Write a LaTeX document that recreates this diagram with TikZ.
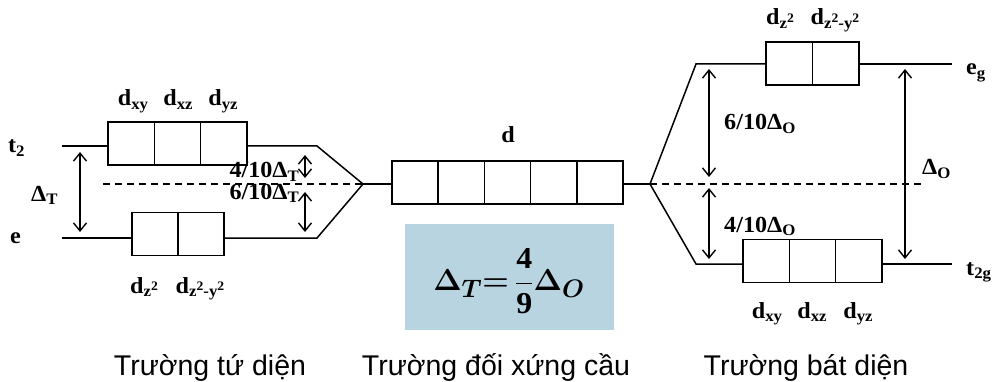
\documentclass[tikz,border=0pt]{standalone}
\usepackage{fontspec}
\usepackage{bm}
\usetikzlibrary{arrows.meta}
\newfontfamily\lblfont[FakeStretch=1.05]{Liberation Serif}
\newfontfamily\capfont{Liberation Sans}
\definecolor{panelblue}{RGB}{183,212,224}
% subscript and raised index for orbital labels
\newcommand\sbs[1]{\raisebox{-0.15em}{\fontsize{16}{16}\selectfont #1}}
\newcommand\upr[1]{\raisebox{0.35em}{\fontsize{13}{13}\selectfont #1}}
\begin{document}
\begin{tikzpicture}[x=1pt,y=-1pt,
  cell/.style={draw, line width=1.6pt, minimum width=46.3pt, minimum height=43pt, inner sep=0pt, outer sep=0pt},
  lvl/.style={line width=1.5pt},
  midline/.style={line width=1.3pt, dash pattern=on 7pt off 5pt},
  dbl/.style={line width=1.4pt, {Straight Barb[length=8pt,width=13pt]}-{Straight Barb[length=8pt,width=13pt]}},
  lbl/.style={font=\lblfont\bfseries\fontsize{23}{26}\selectfont, inner sep=0pt},
  fieldname/.style={font=\capfont\fontsize{28.5}{32}\selectfont, inner sep=0pt}]
\useasboundingbox (0,0) rectangle (995,382);

% ---------- orbital boxes ----------
% tetrahedral field
\node[cell] (ta1) at (131.2,143.5) {};
\node[cell] (ta2) at (177.5,143.5) {};
\node[cell] (ta3) at (223.8,143.5) {};
\node[cell] (ea1) at (155,234) {};
\node[cell] (ea2) at (201,234) {};
% spherical field
\node[cell] (s1) at (415.1,182.5) {};
\node[cell] (s2) at (461.3,182.5) {};
\node[cell] (s3) at (507.5,182.5) {};
\node[cell] (s4) at (553.7,182.5) {};
\node[cell] (s5) at (599.9,182.5) {};
% octahedral field
\node[cell] (eg1) at (789.3,63.5) {};
\node[cell] (eg2) at (835.7,63.5) {};
\node[cell] (tg1) at (766.2,261) {};
\node[cell] (tg2) at (812.5,261) {};
\node[cell] (tg3) at (858.8,261) {};

% ---------- level lines ----------
\coordinate (t2L) at (62,146);  \coordinate (t2R) at (317,146);
\coordinate (eL)  at (62,238);  \coordinate (eR)  at (317,238);
\coordinate (apexT) at (363,184);
\coordinate (apexO) at (650,184);
\coordinate (egL) at (696,64);  \coordinate (egR) at (952,64);
\coordinate (tgL) at (696,264); \coordinate (tgR) at (952,264);

\draw[lvl] (t2L) -- (t2L -| ta1.west);
\draw[lvl] (t2R -| ta3.east) -- (t2R) -- (apexT);
\draw[lvl] (eL) -- (eL -| ea1.west);
\draw[lvl] (eR -| ea2.east) -- (eR) -- (apexT);
\draw[lvl] (apexT) -- (apexT -| s1.west);
\draw[lvl] (s5.east |- apexO) -- (apexO);
\draw[lvl] (apexO) -- (egL) -- (egL -| eg1.west);
\draw[lvl] (eg2.east |- egR) -- (egR);
\draw[lvl] (apexO) -- (tgL) -- (tgL -| tg1.west);
\draw[lvl] (tg3.east |- tgR) -- (tgR);

% barycentre lines
\coordinate (dashT) at (103,184);
\coordinate (dashO) at (925,184);
\draw[midline] (dashT) -- (apexT);
\draw[midline] (apexO) -- (dashO);

% ---------- splitting arrows ----------
\coordinate (aT1) at (80,152);  \coordinate (aT2) at (80,232);
\coordinate (bT1) at (305,155); \coordinate (bT2) at (305,178);
\coordinate (cT1) at (305,192); \coordinate (cT2) at (305,232);
\coordinate (aO1) at (709,69);  \coordinate (aO2) at (709,177);
\coordinate (bO1) at (709,188); \coordinate (bO2) at (709,259);
\coordinate (cO1) at (905,69);  \coordinate (cO2) at (905,259);
\draw[dbl] (aT1) -- (aT2);
\draw[dbl] (bT1) -- (bT2);
\draw[dbl] (cT1) -- (cT2);
\draw[dbl] (aO1) -- (aO2);
\draw[dbl] (bO1) -- (bO2);
\draw[dbl] (cO1) -- (cO2);

% ---------- labels ----------
\node[lbl, anchor=base west] (lt2) at (8,153) {t\sbs{2}};
\node[lbl, anchor=base west] (le) at (10,243) {e};
\node[lbl, anchor=base west] (ldT) at (31,201) {Δ\sbs{T}};
\node[lbl, anchor=base east] (l4T) at (299,178) {4/10Δ\sbs{T}};
\node[lbl, anchor=base east] (l6T) at (299,199) {6/10Δ\sbs{T}};
\node[lbl, anchor=base] (txy) at (133,106) {d\sbs{xy}};
\node[lbl, anchor=base] (txz) at (178,106) {d\sbs{xz}};
\node[lbl, anchor=base] (tyz) at (223,106) {d\sbs{yz}};
\node[lbl, anchor=base] (tz2) at (144,293) {d\sbs{z\upr{2}}};
\node[lbl, anchor=base] (tx2) at (200,293) {d\sbs{z\upr{2}-y\upr{2}}};

\node[lbl, anchor=base] (ld) at (508,143) {d};

\node[lbl, anchor=base] (oz2) at (780,25) {d\sbs{z\upr{2}}};
\node[lbl, anchor=base] (ox2) at (835,25) {d\sbs{z\upr{2}-y\upr{2}}};
\node[lbl, anchor=base] (oxy) at (767,318) {d\sbs{xy}};
\node[lbl, anchor=base] (oxz) at (812,318) {d\sbs{xz}};
\node[lbl, anchor=base] (oyz) at (858,318) {d\sbs{yz}};
\node[lbl, anchor=base west] (l6O) at (724,130) {6/10Δ\sbs{O}};
\node[lbl, anchor=base west] (l4O) at (724,232) {4/10Δ\sbs{O}};
\node[lbl, anchor=base west] (ldO) at (922,175) {Δ\sbs{O}};
\node[lbl, anchor=base west] (leg) at (966,75) {e\sbs{g}};
\node[lbl, anchor=base west] (lt2g) at (966,275) {t\sbs{2g}};

% ---------- relation panel ----------
\node[fill=panelblue, minimum width=209pt, minimum height=106pt, inner sep=0pt] (panel) at (509.5,277) {};
\node[inner sep=0pt, font=\fontsize{24.88}{30}\selectfont\boldmath] (rel) at (509,281)
  {\scalebox{1.22}{$\displaystyle \Delta_{T}{=}\,\frac{\hbox{\lblfont\bfseries 4}}{\hbox{\lblfont\bfseries 9}}\Delta_{O}$}};

% ---------- field names ----------
\node[fieldname, anchor=base] (c1) at (210,375) {Trường tứ diện};
\node[fieldname, anchor=base] (c2) at (496,375) {Trường đối xứng cầu};
\node[fieldname, anchor=base] (c3) at (806,375) {Trường bát diện};
\end{tikzpicture}
\end{document}
